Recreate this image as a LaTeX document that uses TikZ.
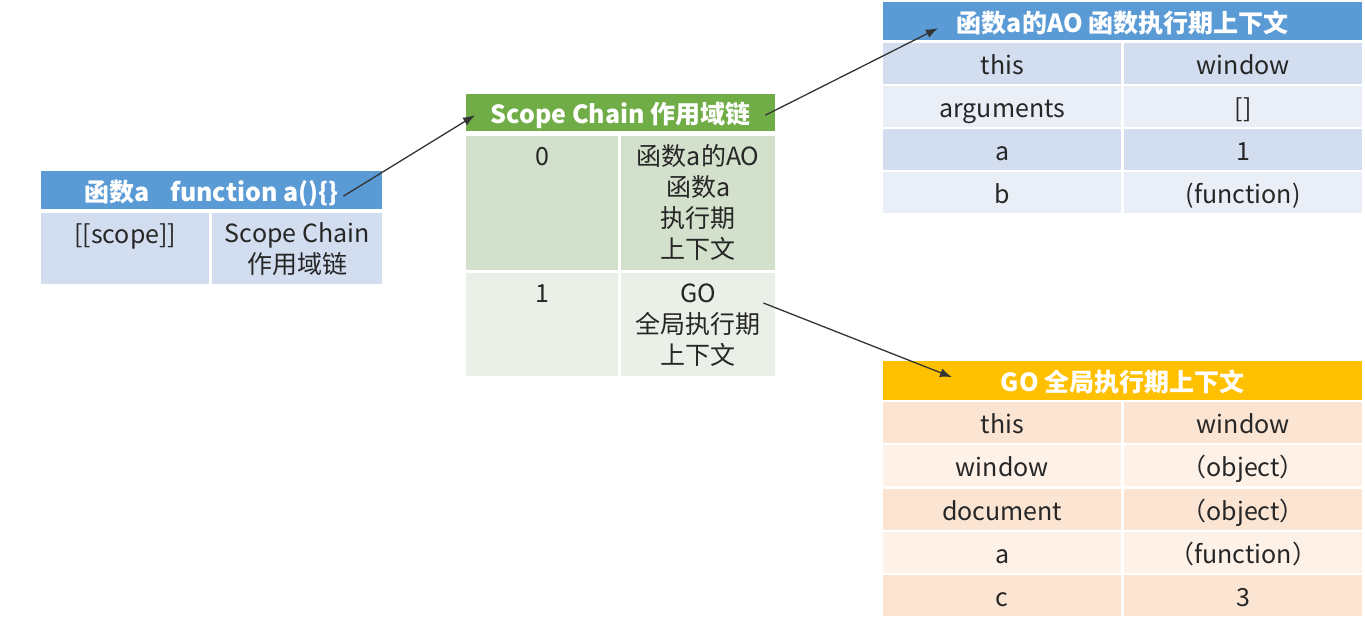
\documentclass[tikz,border=0pt]{standalone}
\usepackage{fontspec}
\setmainfont{Noto Sans CJK SC}
\usetikzlibrary{arrows.meta}

\definecolor{hdblue}{HTML}{5B9BD5}
\definecolor{bgblue}{HTML}{D2DEEF}
\definecolor{ltblue}{HTML}{EAEFF7}
\definecolor{hdgreen}{HTML}{70AD47}
\definecolor{bggreen}{HTML}{D3E0CC}
\definecolor{ltgreen}{HTML}{EAEFE8}
\definecolor{hdgold}{HTML}{FFC000}
\definecolor{bgpeach}{HTML}{FCE4D3}
\definecolor{ltpeach}{HTML}{FDF1E8}

\begin{document}
\begin{tikzpicture}[x=1pt, y=-1pt,
    cell/.style  = {rectangle, inner sep=0pt, anchor=north west,
                    text=black!85, font=\fontsize{25}{30}\selectfont,
                    text height=22pt, text depth=0pt},
    head/.style  = {cell, text=white, font=\fontsize{25}{30}\selectfont\bfseries},
    txt/.style   = {inner sep=0pt, anchor=north, align=center,
                    text=black!85, font=\fontsize{25}{31}\selectfont},
    arrow/.style = {-{Latex[length=12pt, width=9pt]}, line width=1.3pt, draw=black!80}]
  \useasboundingbox (0,0) rectangle (1365,620);

  \node (fnhead) [head, fill=hdblue, minimum width=341pt, minimum height=38pt]
    at (41,171) {函数a\hspace{20pt}function a()\{\}};
  \node (fnkey) [cell, fill=bgblue, minimum width=168pt, minimum height=71pt] at (41,213) {};
  \node (fnval) [cell, fill=bgblue, minimum width=170pt, minimum height=71pt] at (212,213) {};
  \node (fnkeytext) [txt] at ([yshift=-9pt]fnkey.north) {\strut[[scope]]};
  \node (fnvaltext) [txt] at ([yshift=-8pt]fnval.north) {\strut Scope Chain\\作用域链};

  \node (schead) [head, fill=hdgreen, minimum width=309pt, minimum height=37pt]
    at (466,94) {Scope Chain 作用域链};
  \node (sc0key) [cell, fill=bggreen, minimum width=152pt, minimum height=134pt] at (466,136) {};
  \node (sc0val) [cell, fill=bggreen, minimum width=154pt, minimum height=134pt] at (621,136) {};
  \node (sc1key) [cell, fill=ltgreen, minimum width=152pt, minimum height=103pt] at (466,273) {};
  \node (sc1val) [cell, fill=ltgreen, minimum width=154pt, minimum height=103pt] at (621,273) {};
  \node (sc0keytext) [txt] at ([yshift=-8pt]sc0key.north) {\strut 0};
  \node (sc0valtext) [txt] at ([yshift=-8pt]sc0val.north) {\strut 函数a的AO\\函数a\\执行期\\上下文};
  \node (sc1keytext) [txt] at ([yshift=-8pt]sc1key.north) {\strut 1};
  \node (sc1valtext) [txt] at ([yshift=-8pt]sc1val.north) {\strut GO\\全局执行期\\上下文};

  \node (aohead) [head, fill=hdblue, minimum width=479pt, minimum height=38pt]
    at (883,2) {函数a的AO 函数执行期上下文};
  \node (aothis)     [cell, fill=bgblue, minimum width=238pt, minimum height=41pt] at (883,43)   {this};
  \node (aothisval)  [cell, fill=bgblue, minimum width=238pt, minimum height=41pt] at (1124,43)  {window};
  \node (aoargs)     [cell, fill=ltblue, minimum width=238pt, minimum height=41pt] at (883,86)   {arguments};
  \node (aoargsval)  [cell, fill=ltblue, minimum width=238pt, minimum height=41pt] at (1124,86)  {[]};
  \node (aoa)        [cell, fill=bgblue, minimum width=238pt, minimum height=41pt] at (883,129)  {a};
  \node (aoaval)     [cell, fill=bgblue, minimum width=238pt, minimum height=41pt] at (1124,129) {1};
  \node (aob)        [cell, fill=ltblue, minimum width=238pt, minimum height=41pt] at (883,172)  {b};
  \node (aobval)     [cell, fill=ltblue, minimum width=238pt, minimum height=41pt] at (1124,172) {(function)};

  \node (gohead) [head, fill=hdgold, minimum width=479pt, minimum height=39pt]
    at (883,361) {GO 全局执行期上下文};
  \node (gothis)     [cell, fill=bgpeach, minimum width=238pt, minimum height=41pt] at (883,402)  {this};
  \node (gothisval)  [cell, fill=bgpeach, minimum width=238pt, minimum height=41pt] at (1124,402) {window};
  \node (gowin)      [cell, fill=ltpeach, minimum width=238pt, minimum height=41pt] at (883,445)  {window};
  \node (gowinval)   [cell, fill=ltpeach, minimum width=238pt, minimum height=41pt] at (1124,445) {（object）};
  \node (godoc)      [cell, fill=bgpeach, minimum width=238pt, minimum height=41pt] at (883,489)  {document};
  \node (godocval)   [cell, fill=bgpeach, minimum width=238pt, minimum height=41pt] at (1124,489) {（object）};
  \node (goa)        [cell, fill=ltpeach, minimum width=238pt, minimum height=41pt] at (883,532)  {a};
  \node (goaval)     [cell, fill=ltpeach, minimum width=238pt, minimum height=41pt] at (1124,532) {（function）};
  \node (goc)        [cell, fill=bgpeach, minimum width=238pt, minimum height=41pt] at (883,575)  {c};
  \node (gocval)     [cell, fill=bgpeach, minimum width=238pt, minimum height=41pt] at (1124,575) {3};

  \draw[arrow] ([xshift=-39pt, yshift=-6pt]fnhead.east)
            -- ([xshift=9pt, yshift=-2.5pt]schead.west);
  \draw[arrow] ([xshift=-10pt, yshift=-2.5pt]schead.east)
            -- ([xshift=55pt, yshift=-7pt]aohead.west);
  \draw[arrow] ([xshift=-12pt, yshift=-30pt]sc1val.north east)
            -- ([xshift=69pt, yshift=3.5pt]gohead.west);
\end{tikzpicture}
\end{document}
